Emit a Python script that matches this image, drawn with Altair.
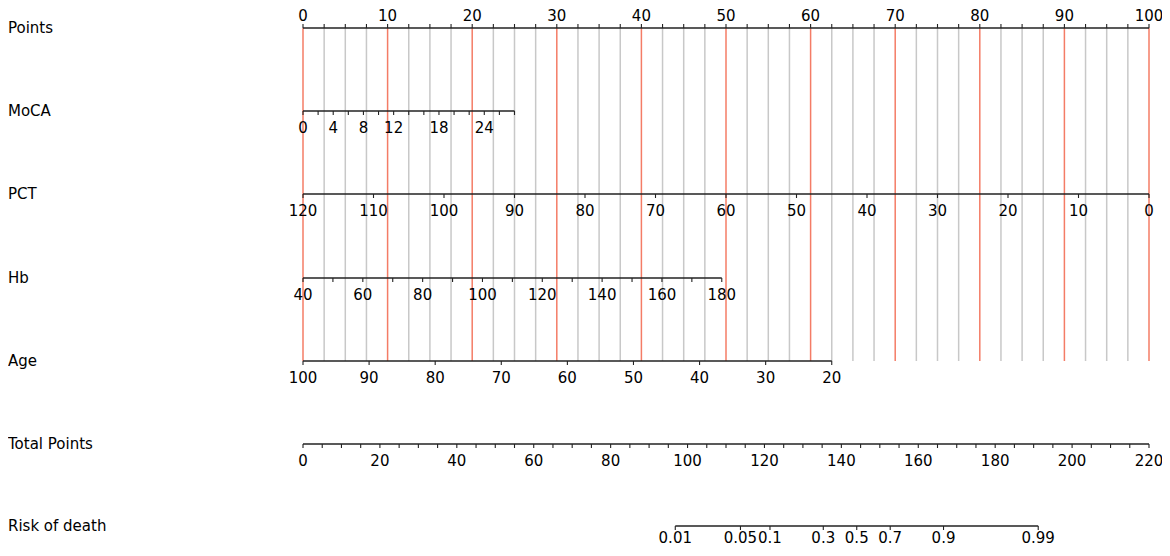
import math
import altair as alt
import pandas as pd

# ---------------- data: nomogram scales ----------------
rows = ["Points", "MoCA", "PCT", "Hb", "Age", "Total Points", "Risk of death"]

points_ticks = [i * 2.5 for i in range(41)]
points_labels = [0, 10, 20, 30, 40, 50, 60, 70, 80, 90, 100]

moca_ticks = [0, 2, 4, 6, 8, 10, 12, 14, 16, 18, 20, 22, 24, 26, 28]
moca_labels = [0, 4, 8, 12, 18, 24]

pct_ticks = [120, 110, 100, 90, 80, 70, 60, 50, 40, 30, 20, 10, 0]
pct_labels = [120, 110, 100, 90, 80, 70, 60, 50, 40, 30, 20, 10, 0]

hb_ticks = [40, 50, 60, 70, 80, 90, 100, 110, 120, 130, 140, 150, 160, 170, 180]
hb_labels = [40, 60, 80, 100, 120, 140, 160, 180]

age_ticks = [100, 90, 80, 70, 60, 50, 40, 30, 20]
age_labels = [100, 90, 80, 70, 60, 50, 40, 30, 20]

total_ticks = [i * 5 for i in range(45)]
total_labels = [0, 20, 40, 60, 80, 100, 120, 140, 160, 180, 200, 220]

risk_ticks = [0.01, 0.05, 0.1, 0.3, 0.5, 0.7, 0.9, 0.99]
risk_labels = ["0.01", "0.05", "0.1", "0.3", "0.5", "0.7", "0.9", "0.99"]

# model mappings (value -> points)
def moca_pts(v): return v * 25.0 / 28.0
def pct_pts(v): return (120 - v) * 100.0 / 120.0
def hb_pts(v): return (v - 40) * 49.5 / 140.0
def age_pts(v): return (100 - v) * 62.5 / 80.0
def total_pts(t): return t * 100.0 / 220.0
def risk_pts(p): return total_pts(144.0 + 10.27 * math.log(p / (1 - p)))

# ---------------- layout ----------------
OFF = 8
W, H = 1154, 540
PX0, PX100 = 303 - OFF, 1149 - OFF
ppp = (PX100 - PX0) / 100.0
xdom = [-PX0 / ppp, (W - PX0) / ppp]
row_y = {"Points": 28, "MoCA": 111, "PCT": 194, "Hb": 278, "Age": 361,
         "Total Points": 444, "Risk of death": 526}
row_y = {k: v - OFF for k, v in row_y.items()}
TICK = 4
LAB_OFF = 17
TOP_LAB_OFF = 12
BOTTOM_LAB_OFF = 12
FONT = "DejaVu Sans"
FS = 15

specs = [
    ("Points", points_ticks, points_labels, [str(v) for v in points_labels], lambda v: v, -1),
    ("MoCA", moca_ticks, moca_labels, [str(v) for v in moca_labels], moca_pts, 1),
    ("PCT", pct_ticks, pct_labels, [str(v) for v in pct_labels], pct_pts, 1),
    ("Hb", hb_ticks, hb_labels, [str(v) for v in hb_labels], hb_pts, 1),
    ("Age", age_ticks, age_labels, [str(v) for v in age_labels], age_pts, 1),
    ("Total Points", total_ticks, total_labels, [str(v) for v in total_labels], total_pts, 1),
    ("Risk of death", risk_ticks, risk_ticks, risk_labels, risk_pts, 1),
]

tick_rows, lab_rows, line_rows, name_rows = [], [], [], []
for name, ticks, labs, labtxt, f, d in specs:
    y = row_y[name]
    pts = [f(v) for v in ticks]
    line_rows.append({"row": name, "x1": min(pts), "x2": max(pts), "y": y})
    for p in pts:
        tick_rows.append({"row": name, "pts": p, "y": y, "y2": y + d * TICK})
    if d < 0:
        off = TOP_LAB_OFF
    elif name == "Risk of death":
        off = BOTTOM_LAB_OFF
    else:
        off = LAB_OFF
    for v, t in zip(labs, labtxt):
        lab_rows.append({"row": name, "pts": f(v), "y": y + d * off, "text": t})
    name_rows.append({"row": name, "y": y})

grid_rows = []
for p in points_ticks:
    grid_rows.append({"pts": p, "y": row_y["Points"], "y2": row_y["Age"],
                      "kind": "major" if p % 10 == 0 else "minor"})

ticks_df = pd.DataFrame(tick_rows)
labs_df = pd.DataFrame(lab_rows)
lines_df = pd.DataFrame(line_rows)
names_df = pd.DataFrame(name_rows)
grid_df = pd.DataFrame(grid_rows)

xs = alt.Scale(domain=xdom, nice=False, zero=False)
ys = alt.Scale(domain=[0, H], reverse=True, nice=False, zero=False)

grid_minor = alt.Chart(grid_df).transform_filter(alt.datum.kind == "minor").mark_rule(
    color="#c8c8c8", strokeWidth=1.5).encode(
    x=alt.X("pts:Q", scale=xs, axis=None),
    y=alt.Y("y:Q", scale=ys, axis=None), y2="y2:Q")
grid_major = alt.Chart(grid_df).transform_filter(alt.datum.kind == "major").mark_rule(
    color="#f47c66", strokeWidth=1.5).encode(
    x=alt.X("pts:Q", scale=xs, axis=None),
    y=alt.Y("y:Q", scale=ys, axis=None), y2="y2:Q")

axis_lines = alt.Chart(lines_df).mark_rule(color="#222222", strokeWidth=1.3).encode(
    x=alt.X("x1:Q", scale=xs, axis=None), x2="x2:Q",
    y=alt.Y("y:Q", scale=ys, axis=None))

tick_marks = alt.Chart(ticks_df).mark_rule(color="#222222", strokeWidth=1.1).encode(
    x=alt.X("pts:Q", scale=xs, axis=None),
    y=alt.Y("y:Q", scale=ys, axis=None), y2="y2:Q")

tick_labels = alt.Chart(labs_df).mark_text(
    font=FONT, fontSize=FS, color="black", align="center", baseline="middle").encode(
    x=alt.X("pts:Q", scale=xs, axis=None),
    y=alt.Y("y:Q", scale=ys, axis=None), text="text:N")

row_names = alt.Chart(names_df).mark_text(
    font=FONT, fontSize=FS, color="black", align="left", baseline="middle").encode(
    x=alt.value(0),
    y=alt.Y("y:Q", scale=ys, axis=None), text="row:N")

chart = alt.layer(grid_minor, grid_major, axis_lines, tick_marks, tick_labels, row_names).properties(
    width=W, height=H, padding=0,
    autosize=alt.AutoSizeParams(type="none"),
).configure(background="white", view=alt.ViewConfig(stroke=None))

chart.save("out.html", embed_options={"renderer": "svg", "actions": False})
